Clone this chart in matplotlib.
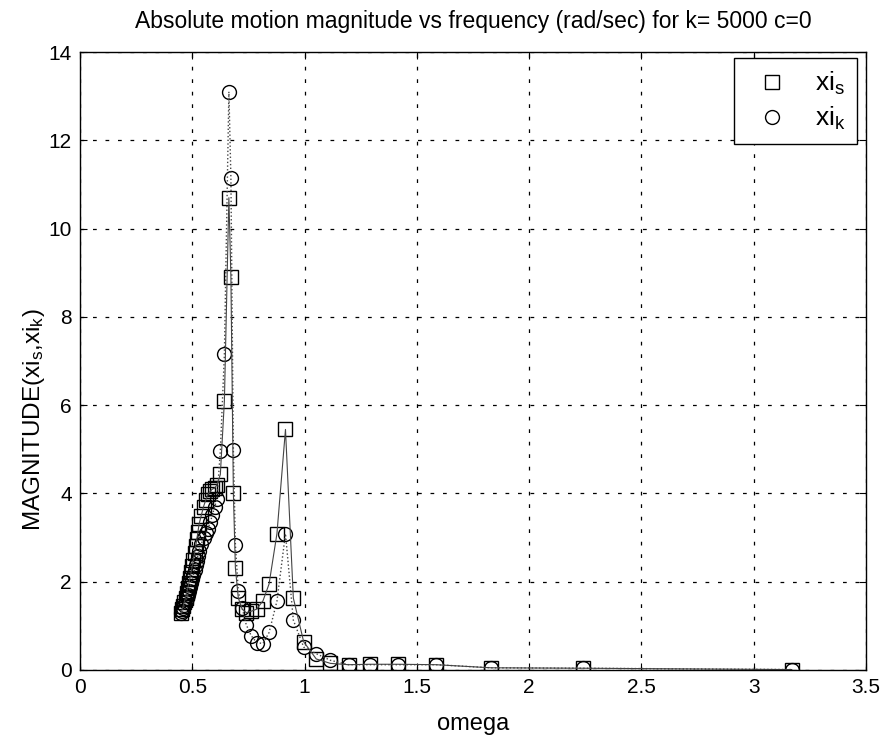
import matplotlib
matplotlib.use('Agg')
import matplotlib.pyplot as plt

plt.rcParams['font.family'] = ['Liberation Sans', 'DejaVu Sans']
plt.rcParams['mathtext.default'] = 'regular'

# frequency sweep (rad/sec)
omega = [0.450, 0.455, 0.460, 0.465, 0.470, 0.475, 0.480, 0.485, 0.490, 0.495,
         0.500, 0.505, 0.510, 0.515, 0.520, 0.525, 0.530, 0.540, 0.550, 0.560,
         0.570, 0.580, 0.590, 0.600, 0.610, 0.625, 0.643, 0.663, 0.672, 0.683,
         0.692, 0.705, 0.722, 0.740, 0.762, 0.787, 0.815, 0.842, 0.877, 0.915,
         0.950, 0.996, 1.052, 1.115, 1.196, 1.292, 1.416, 1.585, 1.830, 2.240,
         3.170]

xi_s = [1.30, 1.38, 1.46, 1.55, 1.64, 1.74, 1.85, 1.97, 2.09, 2.22,
        2.36, 2.50, 2.65, 2.80, 2.96, 3.12, 3.30, 3.50, 3.70, 3.85,
        3.98, 4.05, 4.10, 4.12, 4.20, 4.43, 6.10, 10.70, 8.90, 4.00,
        2.31, 1.63, 1.38, 1.30, 1.33, 1.38, 1.57, 1.95, 3.09, 5.45,
        1.63, 0.64, 0.25, 0.15, 0.12, 0.13, 0.13, 0.12, 0.05, 0.04,
        0.01]

xi_k = [1.28, 1.33, 1.40, 1.47, 1.54, 1.62, 1.70, 1.78, 1.87, 1.96,
        2.06, 2.16, 2.26, 2.37, 2.48, 2.59, 2.70, 2.85, 3.00, 3.10,
        3.20, 3.35, 3.52, 3.70, 3.88, 4.97, 7.15, 13.10, 11.15, 4.98,
        2.83, 1.78, 1.41, 1.03, 0.78, 0.62, 0.60, 0.85, 1.56, 3.09,
        1.13, 0.52, 0.37, 0.22, 0.12, 0.12, 0.12, 0.12, 0.05, 0.04,
        0.01]

fig = plt.figure(figsize=(8.84, 7.40), dpi=100)
ax = fig.add_axes([0.0905, 0.0946, 0.8891, 0.8351])

ax.plot(omega, xi_s, 's', mfc='none', mec='black', ms=10, mew=1.0, label='xi$_s$')
ax.plot(omega, xi_k, 'o', mfc='none', mec='black', ms=10, mew=1.0, label='xi$_k$')
ax.plot(omega, xi_s, '-', color='#444444', lw=0.8)
ax.plot(omega, xi_k, ':', color='#444444', lw=1.0)

ax.set_xlim(0, 3.5)
ax.set_ylim(0, 14)
ax.set_xticks([0, 0.5, 1, 1.5, 2, 2.5, 3, 3.5])
ax.set_xticklabels(['0', '0.5', '1', '1.5', '2', '2.5', '3', '3.5'])
ax.set_yticks(range(0, 15, 2))
ax.tick_params(direction='in', length=5, top=True, right=True, labelsize=15, pad=6)
ax.grid(True, color='black', linestyle=(0, (3, 7)), linewidth=0.9)
for s in ax.spines.values():
    s.set_linewidth(1.0)

ax.set_title('Absolute motion magnitude vs frequency (rad/sec) for k= 5000 c=0',
             fontsize=16.5, pad=17)
ax.set_xlabel('omega', fontsize=17)
ax.xaxis.set_label_coords(0.5, -0.07, transform=ax.transAxes)
ax.set_ylabel('MAGNITUDE(xi$_s$,xi$_k$)', fontsize=17.5, va='center')
ax.yaxis.set_label_coords(-0.058, 0.405, transform=ax.transAxes)

leg = ax.legend(loc='upper right', fontsize=19, fancybox=False, framealpha=1,
                edgecolor='black', handletextpad=0.6, borderpad=0.45,
                labelspacing=0.3, handlelength=2.0, borderaxespad=0,
                bbox_to_anchor=(0.9886, 0.990))
leg.get_frame().set_linewidth(1.0)

fig.savefig('out.png', dpi=100)
